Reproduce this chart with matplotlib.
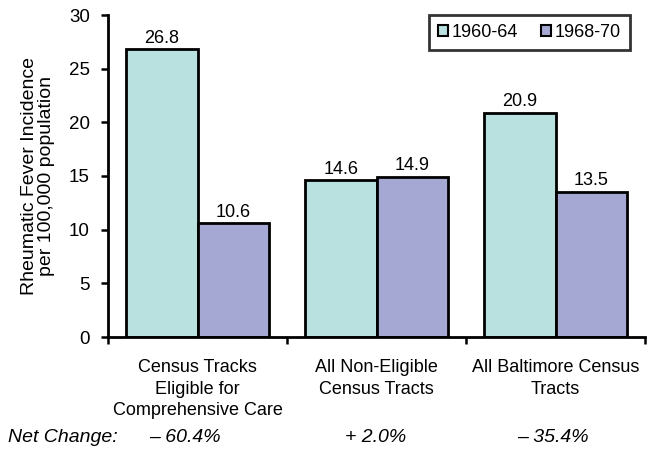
import matplotlib; matplotlib.use("Agg")
import matplotlib.pyplot as plt
import numpy as np

plt.rcParams["font.family"] = ["Liberation Sans", "DejaVu Sans"]

CATS = ["Census Tracks\nEligible for\nComprehensive Care",
        "All Non-Eligible\nCensus Tracts",
        "All Baltimore Census\nTracts"]
SERIES = ["1960-64", "1968-70"]
V6064 = [26.8, 14.6, 20.9]
V6870 = [10.6, 14.9, 13.5]
NET = ["\u2013 60.4%", "+ 2.0%", "\u2013 35.4%"]
COLS = ["#B9E1DF", "#A6A8D4"]

fig = plt.figure(figsize=(6.48, 4.54), dpi=100)
ax = fig.add_axes([108/648, 1-337/454, 537/648, 322/454])
x = np.arange(len(CATS))
w = 0.4
for i, (vals, col, lab) in enumerate(zip([V6064, V6870], COLS, SERIES)):
    xs = x + (i - 0.5) * w
    ax.bar(xs, vals, width=w, color=col, edgecolor="black", lw=2, label=lab, zorder=2)
    for xx, v in zip(xs, vals):
        ax.text(xx, v + 0.25, f"{v:.1f}", ha="center", va="bottom", fontsize=13)

ax.set_xlim(-0.5, 2.5)
ax.set_ylim(0, 30)
ax.set_yticks(range(0, 31, 5))
ax.tick_params(axis="y", labelsize=13.5, width=1.8, length=5, pad=8)
ax.set_xticks(x)
ax.set_xticklabels(CATS, fontsize=13, linespacing=1.35)
ax.tick_params(axis="x", length=0, pad=16)
ax.set_xticks([-0.5, 0.5, 1.5, 2.5], minor=True)
ax.tick_params(axis="x", which="minor", length=5, width=1.8)
for s in ["top", "right"]:
    ax.spines[s].set_visible(False)
for s in ["left", "bottom"]:
    ax.spines[s].set_linewidth(2)
ax.set_ylabel("Rheumatic Fever Incidence\nper 100,000 population", fontsize=14,
              labelpad=10, linespacing=1.0)

leg = ax.legend(loc="upper right", bbox_to_anchor=(0.972, 1.0), borderaxespad=0,
                ncol=2, fontsize=13, frameon=True, fancybox=False,
                handlelength=0.55, handleheight=0.55, handletextpad=0.2,
                columnspacing=1.3, borderpad=0.5)
leg.get_frame().set_edgecolor("black")
leg.get_frame().set_linewidth(2)
for h in leg.legend_handles:
    h.set_linewidth(1.5)

# linha "Net Change" abaixo dos rotulos
fig.text(8/648, 1-438/454, "Net Change:", fontsize=14, style="italic",
         ha="left", va="center")
for xf, t in zip([185, 376, 553], NET):
    fig.text(xf/648, 1-438/454, t, fontsize=14, style="italic",
             ha="center", va="center")

fig.savefig("out.png", facecolor="white")
